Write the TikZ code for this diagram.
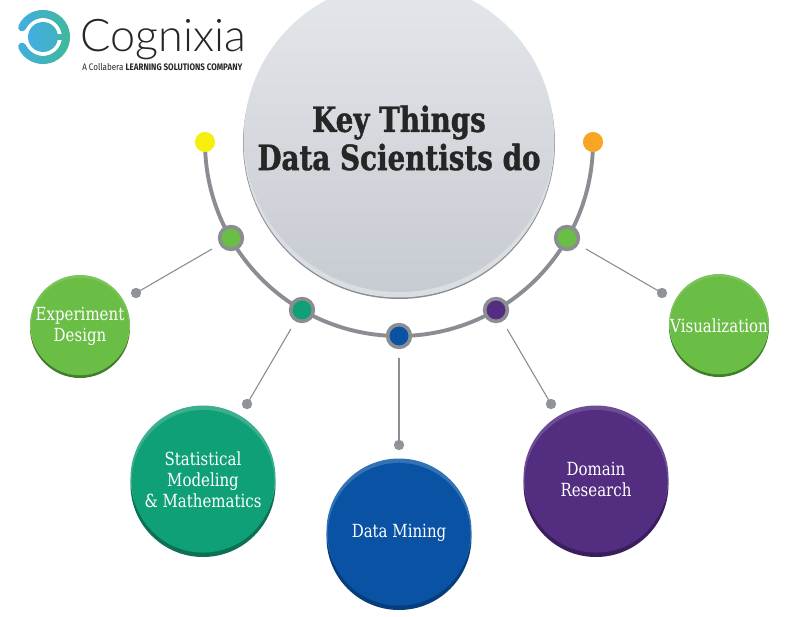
\documentclass[tikz,border=0pt]{standalone}
\usepackage{fontspec}
\setmainfont{DejaVu Serif}[FakeStretch=0.83]
\newfontfamily\titlefont{DejaVu Serif}[FakeStretch=0.80,BoldFeatures={FakeBold=1.2}]
\newfontfamily\logofont{Lato Light}
\newfontfamily\tagfont{Fira Sans}[FakeStretch=0.85]
\definecolor{ringgray}{HTML}{8A8D91}
\definecolor{pingray}{HTML}{8F939A}
\definecolor{linegray}{HTML}{8C8F93}
\definecolor{inkgray}{HTML}{262626}
\definecolor{yellowdot}{HTML}{F6EE0C}
\definecolor{orangedot}{HTML}{F6A623}
\definecolor{greenmain}{HTML}{6ABD45}
\definecolor{greenrim}{HTML}{7CC45C}
\definecolor{greendark}{HTML}{3F7F2A}
\definecolor{tealmain}{HTML}{10A078}
\definecolor{tealrim}{HTML}{3BAF8E}
\definecolor{tealdark}{HTML}{0B7055}
\definecolor{bluemain}{HTML}{0A52A3}
\definecolor{bluerim}{HTML}{3272B5}
\definecolor{bluedark}{HTML}{083D7C}
\definecolor{purplemain}{HTML}{522D80}
\definecolor{purplerim}{HTML}{6C4C95}
\definecolor{purpledark}{HTML}{3A1E5E}
\definecolor{logoblue}{HTML}{42AEE0}
\definecolor{logoteal}{HTML}{3FB89E}
\definecolor{moontop}{HTML}{E4E7EA}
\definecolor{moonbottom}{HTML}{C7CBD2}
\definecolor{moonrim}{HTML}{DADDE1}
\tikzset{
  hubnode/.style={circle,draw=ringgray,line width=2.6pt,minimum size=16.4pt,inner sep=0pt,fill=#1},
  enddot/.style={circle,minimum size=14.5pt,inner sep=0pt,fill=#1},
  pindot/.style={circle,minimum size=7.5pt,inner sep=0pt,fill=pingray},
  leader/.style={linegray,line width=0.8pt,shorten <=16pt},
  blobtext/.style={text=white,font=\fontsize{13}{15}\selectfont,align=center}
}
% name, x, y, radius, shadow drop, colour prefix, label
\newcommand{\blob}[7]{
  \fill[#6dark] (#2,#3+#5) circle (#4);
  \fill[#6rim] (#2,#3) circle (#4);
  \fill[#6main] (#2,#3+#5*0.5) circle (#4-1.2);
  \node[blobtext] (#1) at (#2,#3+1.5) {#7};
}
\begin{document}
\begin{tikzpicture}[line cap=round,line join=round,x=0.72pt,y=-0.72pt]
\clip(0,0) rectangle (800,617);
\fill[white] (0,0) rectangle (800,617);
% logo
\foreach \a in {155,145,...,-145}{
  \pgfmathsetmacro{\mixval}{50+50*cos(\a)}
  \draw[logoteal!\mixval!logoblue,line width=5.8pt] (43,37) ++(\a:23) arc[start angle=\a,delta angle=-10,radius=23];
}
\fill[logoteal!70!logoblue] (52,34) rectangle (64,40);
\path[left color=logoblue,right color=logoteal!45!logoblue] (43,37) circle (15);
\node[inner sep=0pt,text=inkgray,font=\logofont\fontsize{32.4}{36}\selectfont,anchor=base west] (brand) at (80,52) {Cognixia};
\node[inner sep=0pt,text=inkgray,font=\tagfont\fontsize{6.8}{8}\selectfont,anchor=base west] (tagline) at (82,71) {A Collabera \textbf{LEARNING SOLUTIONS COMPANY}};
% big circle
\fill[ringgray] (399,143) circle (156);
\fill[moonrim] (399,142) circle (155.5);
\path[top color=moontop,bottom color=moonbottom] (399,137) circle (155);
\node[text=inkgray,align=center,font=\titlefont\fontsize{25}{27.5}\selectfont\bfseries] (title) at (399,138) {Key Things\\Data Scientists do};
% rail and its dots
\coordinate (railstart) at (205,142);
\draw[ringgray,line width=2.8pt] (railstart) arc[start angle=180,end angle=0,radius=194];
\node[enddot=yellowdot] (ydot) at (205,142) {};
\node[enddot=orangedot] (odot) at (593,142) {};
\node[hubnode=greenmain] (h1) at (231,238) {};
\node[hubnode=tealmain] (h2) at (302,310) {};
\node[hubnode=bluemain] (h3) at (399,336) {};
\node[hubnode=purplemain] (h4) at (496,310) {};
\node[hubnode=greenmain] (h5) at (567,238) {};
% pins
\node[pindot] (p1) at (136,293) {};
\node[pindot] (p2) at (247,404) {};
\node[pindot] (p3) at (399,445) {};
\node[pindot] (p4) at (551,404) {};
\node[pindot] (p5) at (662,293) {};
\foreach \h/\p in {h1/p1,h2/p2,h3/p3,h4/p4,h5/p5}
  \draw[leader] (\h.center) -- (\p.center);
% blobs
\blob{b1}{80}{325}{50}{3}{green}{Experiment\\Design}
\blob{b2}{203}{478}{72.5}{6.5}{teal}{Statistical\\Modeling\\\&~Mathematics}
\blob{b3}{399}{531}{72.5}{6.5}{blue}{Data Mining}
\blob{b4}{596}{478}{72.5}{6.5}{purple}{Domain\\Research}
\blob{b5}{719}{324}{50}{3}{green}{Visualization}
\end{tikzpicture}
\end{document}
